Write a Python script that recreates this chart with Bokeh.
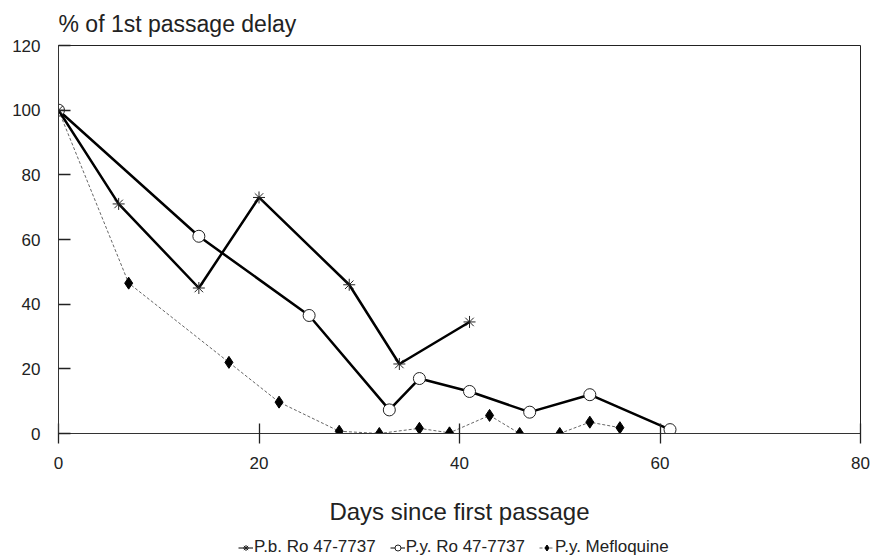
from bokeh.plotting import figure
from bokeh.layouts import column
from bokeh.models import Range1d, FixedTicker, Legend, LegendItem
from bokeh.embed import file_html
from bokeh.resources import INLINE

# Data
pb_days = [0, 6, 14, 20, 29, 34, 41]
pb_vals = [100, 71, 45, 73, 46, 21.5, 34.5]

py_days = [0, 14, 25, 33, 36, 41, 47, 53, 61]
py_vals = [100, 61, 36.5, 7.3, 17, 13, 6.6, 12, 1.2]

mf_days = [0, 7, 17, 22, 28, 32, 36, 39, 43, 46, 50, 53, 56]
mf_vals = [100, 46.5, 22, 9.7, 0.7, 0, 1.6, 0.2, 5.6, 0, 0, 3.5, 1.8]

x_ticks = [0, 20, 40, 60, 80]
y_ticks = [0, 20, 40, 60, 80, 100, 120]

series_labels = ["P.b. Ro 47-7737", "P.y. Ro 47-7737", "P.y. Mefloquine"]

FONT = "Liberation Sans"
INK = "#222222"

p = figure(width=870, height=528, output_backend="svg", toolbar_location=None,
           x_range=Range1d(0, 80), y_range=Range1d(0, 120),
           title="% of 1st passage delay",
           min_border_left=58, min_border_right=10, min_border_top=44, min_border_bottom=95)

p.title.text_font = FONT
p.title.text_font_size = "23px"
p.title.text_font_style = "normal"
p.title.text_color = INK
p.title.align = "left"
p.title.standoff = 17

p.grid.visible = False
p.outline_line_color = INK
p.outline_line_width = 1
p.background_fill_color = "white"
p.border_fill_color = "white"

p.xaxis.ticker = FixedTicker(ticks=x_ticks)
p.yaxis.ticker = FixedTicker(ticks=y_ticks)
p.xaxis.minor_tick_line_color = None
p.yaxis.minor_tick_line_color = None
p.xaxis.major_tick_in = 10
p.xaxis.major_tick_out = 10
p.yaxis.major_tick_in = 12
p.yaxis.major_tick_out = 0
for ax in (p.xaxis, p.yaxis):
    ax.axis_line_color = "#333333"
    ax.major_tick_line_color = INK
    ax.major_tick_line_width = 1.3
    ax.major_label_text_font = FONT
    ax.major_label_text_font_size = "17px"
    ax.major_label_text_color = INK
p.yaxis.major_label_standoff = 18
p.xaxis.major_label_standoff = 13
p.xaxis.axis_label = "Days since first passage"
p.xaxis.axis_label_text_font = FONT
p.xaxis.axis_label_text_font_size = "24px"
p.xaxis.axis_label_text_font_style = "normal"
p.xaxis.axis_label_text_color = INK
p.xaxis.axis_label_standoff = 26

MF_LINE = dict(line_color="#666666", line_width=1, line_dash="3 2")
MF_PTS = dict(marker="diamond", size=12, fill_color="black", line_color="black")
PY_LINE = dict(line_color="black", line_width=2.5)
PY_PTS = dict(marker="circle", size=12, fill_color="white", line_color=INK, line_width=1)
PB_LINE = dict(line_color="black", line_width=2.5)
PB_PTS = dict(marker="asterisk", size=12, line_color=INK, line_width=1)

p.line(mf_days, mf_vals, **MF_LINE)
p.scatter(mf_days, mf_vals, **MF_PTS)
p.line(py_days, py_vals, **PY_LINE)
p.scatter(py_days, py_vals, **PY_PTS)
p.line(pb_days, pb_vals, **PB_LINE)
p.scatter(pb_days, pb_vals, **PB_PTS)

# Legend strip below the chart: same series, ranges set so only the legend shows
lg = figure(width=870, height=29, output_backend="svg", toolbar_location=None,
            x_range=Range1d(-1000, -999), y_range=Range1d(-1000, -999),
            x_axis_location=None, y_axis_location=None,
            min_border=0, min_border_left=0, min_border_right=0,
            min_border_top=0, min_border_bottom=0)
lg.grid.visible = False
lg.outline_line_color = None
lg.background_fill_color = "white"
lg.border_fill_color = "white"

l_pb = lg.line(pb_days, pb_vals, line_color="black", line_width=1)
m_pb = lg.scatter(pb_days, pb_vals, **PB_PTS)
l_py = lg.line(py_days, py_vals, line_color="black", line_width=1)
m_py = lg.scatter(py_days, py_vals, **PY_PTS)
l_mf = lg.line(mf_days, mf_vals, **MF_LINE)
m_mf = lg.scatter(mf_days, mf_vals, marker="diamond", size=10, fill_color="black", line_color="black")

legend = Legend(items=[
    LegendItem(label=series_labels[0], renderers=[l_pb, m_pb]),
    LegendItem(label=series_labels[1], renderers=[l_py, m_py]),
    LegendItem(label=series_labels[2], renderers=[l_mf, m_mf]),
], orientation="horizontal", location=(180, 0))
legend.label_text_font = FONT
legend.label_text_font_size = "17px"
legend.label_text_color = INK
legend.border_line_color = None
legend.background_fill_alpha = 0
legend.glyph_width = 15
legend.glyph_height = 17
legend.label_standoff = 1
legend.label_height = 17
legend.spacing = 14
legend.padding = 0
legend.margin = 0
lg.add_layout(legend)

layout = column(p, lg, spacing=0)
open("out.html", "w").write(file_html(layout, INLINE))
